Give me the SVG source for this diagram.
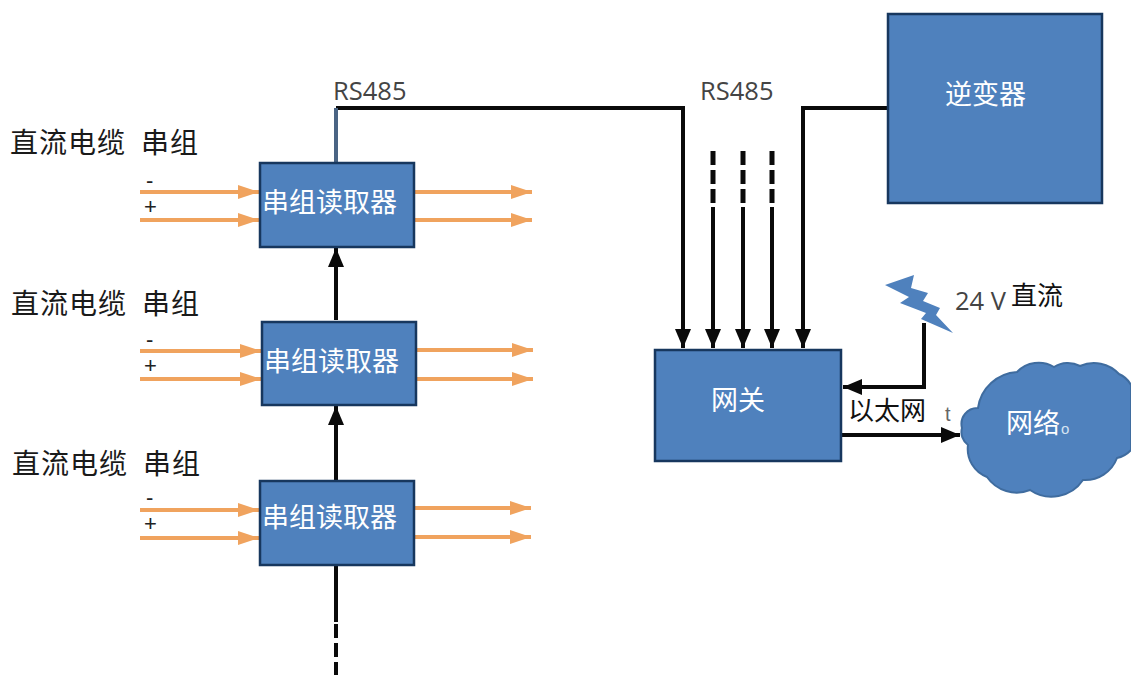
<svg xmlns="http://www.w3.org/2000/svg" width="1131" height="675" viewBox="0 0 1131 675">
<style>
.box{fill:#4f81bd;stroke:#17375e;stroke-width:2.5}
.k{fill:none;stroke:#0a0a0a;stroke-width:4}
.a{marker-end:url(#ka)}
.o{fill:none;stroke:#f0a35e;stroke-width:4;marker-end:url(#oa)}
.t{font-family:"Noto Sans CJK SC","Liberation Serif",serif;font-size:28px;letter-spacing:1px;fill:#1a1a1a}
.w{font-family:"Noto Sans CJK SC","Liberation Serif",serif;font-size:27px;fill:#fff}
.r{font-family:"Open Sans","Liberation Sans",sans-serif;font-size:25.5px;fill:#444}
.s{font-family:"Liberation Sans",sans-serif;font-size:22px;fill:#222}
.b{font-family:"Noto Sans CJK SC",serif;font-size:26px;fill:#111}
</style>
<defs>
<marker id="ka" markerUnits="userSpaceOnUse" markerWidth="20" markerHeight="16" refX="19" refY="8" orient="auto"><path d="M0 0L19 8L0 16z" fill="#0a0a0a"/></marker>
<marker id="oa" markerUnits="userSpaceOnUse" markerWidth="22" markerHeight="14" refX="21" refY="7" orient="auto"><path d="M0 0L21 7L0 14z" fill="#f0a35e"/></marker>
</defs>
<g id="connectors">
<path class="k a" d="M336 108H683V348"/>
<path d="M336 162V108" fill="none" stroke="#4a6484" stroke-width="4"/>
<path class="k a" d="M887 108H803V348"/>
<path class="k a" d="M713 207V348"/>
<path class="k a" d="M743 207V348"/>
<path class="k a" d="M772 207V348"/>
<path d="M713 151V206M743 151V206M772 151V206" fill="none" stroke="#0a0a0a" stroke-width="5" stroke-dasharray="14 5"/>
<path class="k a" d="M336 320V248"/>
<path class="k a" d="M336 480V406"/>
<path class="k" d="M336 622V566"/>
<path d="M336 624V675" fill="none" stroke="#0a0a0a" stroke-width="4" stroke-dasharray="14 5"/>
<path class="k a" d="M924 323V387H843"/>
<path class="k a" d="M841 435H960"/>
<path class="o" d="M140 192H259"/><path class="o" d="M140 220H259"/><path class="o" d="M414 192H532"/><path class="o" d="M414 220H532"/>
<path class="o" d="M140 351H261"/><path class="o" d="M140 379H261"/><path class="o" d="M416 350H533"/><path class="o" d="M416 379H533"/>
<path class="o" d="M140 510H259"/><path class="o" d="M140 538H259"/><path class="o" d="M414 508H531"/><path class="o" d="M414 537H531"/>
</g>
<g id="reader1"><rect class="box" x="260" y="163" width="154" height="84"/><text class="w" x="262" y="212">串组读取器</text></g>
<g id="reader2"><rect class="box" x="262" y="322" width="154" height="83"/><text class="w" x="264" y="371">串组读取器</text></g>
<g id="reader3"><rect class="box" x="260" y="481" width="154" height="84"/><text class="w" x="262" y="527">串组读取器</text></g>
<g id="inverter"><rect class="box" x="888" y="14" width="214" height="189"/><text class="w" x="945" y="104">逆变器</text></g>
<g id="gateway"><rect class="box" x="655" y="350" width="186" height="111"/><text class="w" x="711" y="410">网关</text></g>
<g id="power"><path d="M885 285L914 275L911 288L928 293L923 301L940 308L936 315L953 333L921 319L926 313L900 303L909 297z" fill="#4f81bd"/></g>
<g id="cloud"><path d="M962 428A16 16 0 0 1 978 408A42 42 0 0 1 1017 372A30 30 0 0 1 1054 367A26 26 0 0 1 1080 366A34 34 0 0 1 1119 374A25 25 0 0 1 1131 385V450A26 26 0 0 1 1117 458A34 34 0 0 1 1083 480A38 38 0 0 1 1030 490A36 36 0 0 1 987 477A30 30 0 0 1 968 445A16 16 0 0 1 962 428z" fill="#4f81bd" stroke="#3f6c9f" stroke-width="2"/><text class="w" x="1006" y="433">网络</text><text x="1061" y="434" style="font-family:'Liberation Sans',sans-serif;font-size:15px;fill:#d6e4f2">o</text></g>
<g id="labels">
<text class="r" x="333" y="100">RS485</text>
<text class="r" x="700" y="100">RS485</text>
<text class="t" x="10" y="153">直流电缆</text><text class="t" x="141" y="153">串组</text>
<text class="t" x="11" y="314">直流电缆</text><text class="t" x="142" y="314">串组</text>
<text class="t" x="12" y="474">直流电缆</text><text class="t" x="143" y="474">串组</text>
<text class="s" x="146" y="188">-</text><text class="s" x="144" y="214">+</text>
<text class="s" x="146" y="347">-</text><text class="s" x="144" y="373">+</text>
<text class="s" x="146" y="505">-</text><text class="s" x="144" y="531">+</text>
<text class="r" x="955" y="310">24 V</text>
<text class="b" x="1011" y="305">直流</text>
<text class="b" x="848" y="420">以太网</text>
<text x="945" y="421" style="font-family:'Liberation Sans',sans-serif;font-size:20px;fill:#666">t</text>
</g>
</svg>
